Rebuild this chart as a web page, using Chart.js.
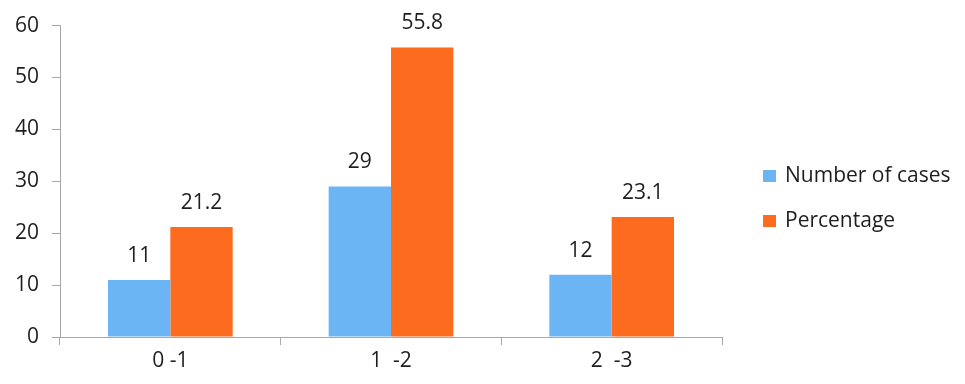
<!DOCTYPE html>
<html>
<head>
<meta charset="utf-8">
<script src="https://cdn.jsdelivr.net/npm/chart.js@4.4.0/dist/chart.umd.min.js"></script>
<style>
  html, body { margin: 0; padding: 0; background: #fff; }
  #wrap { width: 965px; height: 384px; }
</style>
</head>
<body>
<div id="wrap"><canvas id="chart"></canvas></div>
<script>
const categories = ['0 -1', '1  -2', '2  -3'];
const casesValues = [11, 29, 12];
const percentValues = [21.2, 55.8, 23.1];
const seriesNames = ['Number of cases', 'Percentage'];
const yTicks = [0, 10, 20, 30, 40, 50, 60];

const FONT = '"Open Sans", sans-serif';
const TEXT = '#1e1e1e';
const SIZE = 21;

// value labels above each bar
const valueLabels = {
  id: 'valueLabels',
  afterDatasetsDraw(chart) {
    const ctx = chart.ctx;
    ctx.save();
    ctx.font = SIZE + 'px ' + FONT;
    ctx.fillStyle = TEXT;
    ctx.textAlign = 'center';
    ctx.textBaseline = 'middle';
    chart.data.datasets.forEach((ds, di) => {
      chart.getDatasetMeta(di).data.forEach((bar, i) => {
        ctx.fillText(String(ds.data[i]), bar.x, bar.y - 24);
      });
    });
    ctx.restore();
  }
};

// legend drawn on the right
const sideLegend = {
  id: 'sideLegend',
  afterDraw(chart) {
    const ctx = chart.ctx;
    ctx.save();
    ctx.font = SIZE + 'px ' + FONT;
    ctx.textBaseline = 'middle';
    chart.data.datasets.forEach((ds, i) => {
      const y = 176 + i * 45;
      ctx.fillStyle = ds.backgroundColor;
      ctx.fillRect(763, y - 6, 13, 12);
      ctx.fillStyle = TEXT;
      ctx.fillText(ds.label, 785, y);
    });
    ctx.restore();
  }
};

new Chart(document.getElementById('chart'), {
  type: 'bar',
  data: {
    labels: categories,
    datasets: [
      { label: seriesNames[0], data: casesValues, backgroundColor: '#6cb5f5' },
      { label: seriesNames[1], data: percentValues, backgroundColor: '#fc6b1e' }
    ]
  },
  options: {
    responsive: true,
    maintainAspectRatio: false,
    animation: false,
    layout: { padding: { top: 24, right: 243, bottom: 0, left: 0 } },
    plugins: { legend: { display: false }, tooltip: { enabled: false } },
    datasets: { bar: { categoryPercentage: 0.565, barPercentage: 1 } },
    scales: {
      x: {
        grid: { offset: true, drawOnChartArea: false, tickLength: 8, color: '#a8a8a8' },
        border: { color: '#a8a8a8' },
        ticks: { color: TEXT, font: { family: FONT, size: SIZE }, padding: 3 },
        afterFit(scale) { scale.height = 47; }
      },
      y: {
        min: 0,
        max: 60,
        afterBuildTicks(scale) { scale.ticks = yTicks.map(v => ({ value: v })); },
        grid: { drawOnChartArea: false, tickLength: 8, color: '#a8a8a8' },
        border: { color: '#a8a8a8' },
        ticks: { color: TEXT, font: { family: FONT, size: SIZE }, padding: 13 },
        afterFit(scale) { scale.width = 60; }
      }
    }
  },
  plugins: [valueLabels, sideLegend]
});
</script>
</body>
</html>
